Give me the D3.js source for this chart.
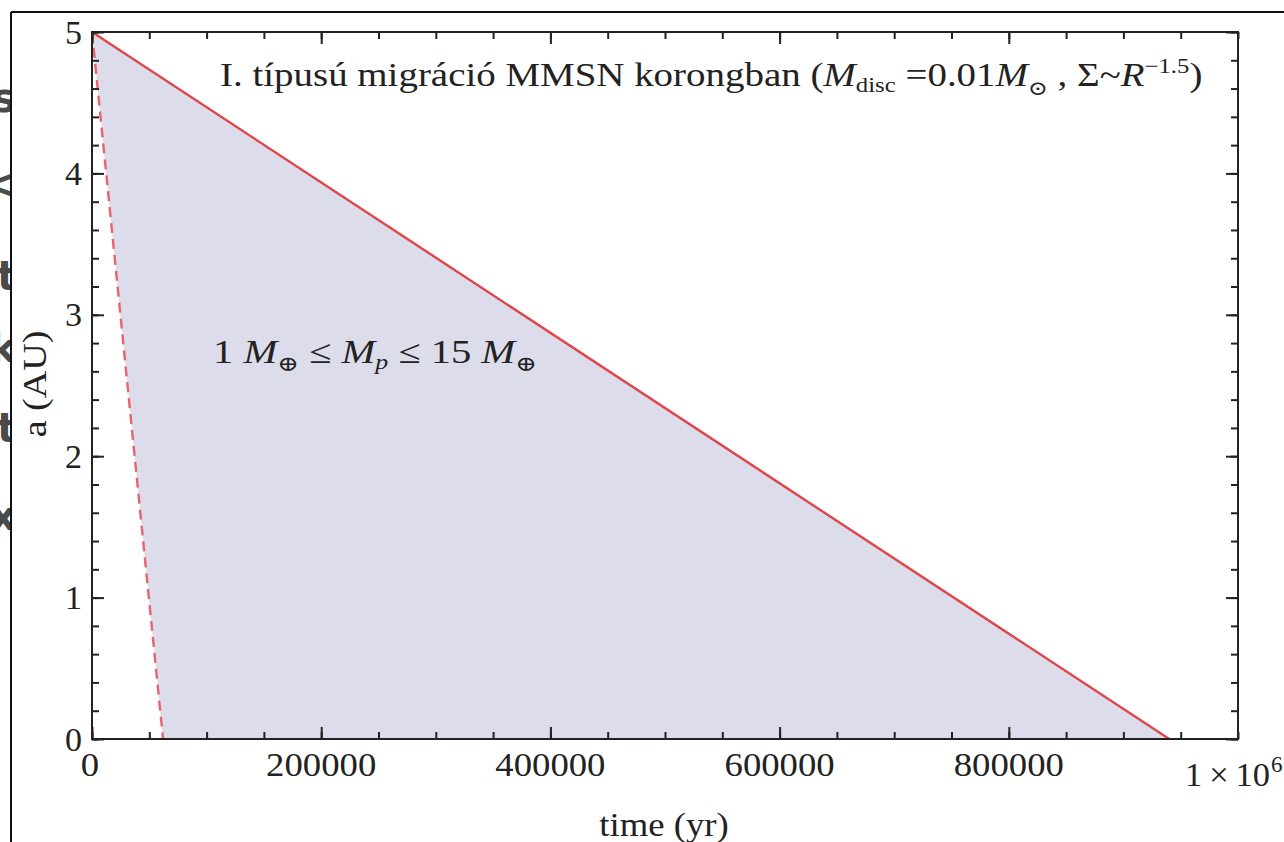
<!DOCTYPE html>
<html>
<head>
<meta charset="utf-8">
<script src="https://cdn.jsdelivr.net/npm/d3@7"></script>
<style>
body { margin: 0; background: #fff; overflow: hidden; }
svg text { font-family: "Liberation Serif", "DejaVu Serif", serif; fill: #222; }
</style>
</head>
<body>
<div id="chart-area"></div>
<script>
// SVG size
let width = 1284,
	height = 842;

// migration tracks: time (yr) vs semi-major axis a (AU)
let slowTime = [0, 940000];   // 1 Earth mass, solid
let slowA = [5, 0];
let fastTime = [0, 62000];    // 15 Earth masses, dashed
let fastA = [5, 0];

// axes
let xMajor = [0, 200000, 400000, 600000, 800000];
let xMajorLabels = ["0", "200000", "400000", "600000", "800000"];
let yMajor = [0, 1, 2, 3, 4, 5];
let yMajorLabels = ["0", "1", "2", "3", "4", "5"];

// bits of another window peeking out on the left edge
let fragChars = ["s", "<", "t", "k", "t", "x"];
let fragY = [112, 198, 290, 362, 442, 530];

drawChart();

// stretch a text horizontally around cx by factor s
function stretch(sel, cx, s) {
	sel.attr("transform", "translate(" + cx + ",0) scale(" + s + ",1) translate(" + (-cx) + ",0)");
}

// stretch a start-anchored text so that it spans x0..x1
function fitWidth(sel, x0, x1) {
	let w = sel.node().getBBox().width;
	stretch(sel, x0, (x1 - x0) / w);
}

function drawChart() {
	let svg = d3.select("#chart-area")
		.append("svg")
		.attr("width", width)
		.attr("height", height);

	let x = d3.scaleLinear().domain([0, 1000000]).range([92, 1238]);
	let y = d3.scaleLinear().domain([0, 5]).range([739, 32]);

	// left-edge fragments behind the window frame
	svg.append("clipPath").attr("id", "leftclip")
		.append("rect").attr("x", 0).attr("y", 0).attr("width", 10).attr("height", height);
	svg.append("g").attr("clip-path", "url(#leftclip)")
		.selectAll("text")
		.data(fragChars)
		.enter()
		.append("text")
		.attr("x", 16)
		.attr("y", (d, i) => fragY[i])
		.attr("text-anchor", "end")
		.style("font-family", "'DejaVu Sans', sans-serif")
		.style("font-weight", "bold")
		.style("font-size", "40px")
		.style("fill", "#4a4a4a")
		.text(d => d);

	// window frame
	svg.append("line").attr("x1", 11).attr("x2", width).attr("y1", 12).attr("y2", 12)
		.attr("stroke", "#111").attr("stroke-width", 2);
	svg.append("line").attr("x1", 11).attr("x2", 11).attr("y1", 12).attr("y2", height)
		.attr("stroke", "#111").attr("stroke-width", 2);

	// shaded band between the two tracks
	let band = slowA.map((a, i) => ({ a: a, t0: fastTime[i], t1: slowTime[i] }));
	svg.append("path")
		.datum(band)
		.attr("fill", "#dcdcea")
		.attr("d", d3.area()
			.y(d => y(d.a))
			.x0(d => x(d.t0))
			.x1(d => x(d.t1)));

	let line = d3.line().x(d => x(d[0])).y(d => y(d[1]));

	svg.append("path")
		.datum(fastTime.map((t, i) => [t, fastA[i]]))
		.attr("fill", "none")
		.attr("stroke", "#e8646c")
		.attr("stroke-width", 2.4)
		.attr("stroke-dasharray", "10,6")
		.attr("d", line);

	svg.append("path")
		.datum(slowTime.map((t, i) => [t, slowA[i]]))
		.attr("fill", "none")
		.attr("stroke", "#e0454b")
		.attr("stroke-width", 2.4)
		.attr("d", line);

	// ticks, all pointing inward
	let axisStyle = g => {
		g.select(".domain").remove();
		g.selectAll(".tick line").attr("stroke", "#222").attr("stroke-width", 2);
		g.selectAll(".tick text").remove();
	};
	let minorX = x.ticks(20), minorY = y.ticks(25);

	svg.append("g").attr("transform", "translate(0,739)")
		.call(d3.axisBottom(x).tickValues(minorX).tickSize(-7)).call(axisStyle);
	svg.append("g").attr("transform", "translate(0,739)")
		.call(d3.axisBottom(x).tickValues(xMajor).tickSize(-12)).call(axisStyle);
	svg.append("g").attr("transform", "translate(0,32)")
		.call(d3.axisTop(x).tickValues(minorX).tickSize(-7)).call(axisStyle);
	svg.append("g").attr("transform", "translate(0,32)")
		.call(d3.axisTop(x).tickValues(xMajor).tickSize(-12)).call(axisStyle);
	svg.append("g").attr("transform", "translate(92,0)")
		.call(d3.axisLeft(y).tickValues(minorY).tickSize(-7)).call(axisStyle);
	svg.append("g").attr("transform", "translate(92,0)")
		.call(d3.axisLeft(y).tickValues(yMajor).tickSize(-12)).call(axisStyle);
	svg.append("g").attr("transform", "translate(1238,0)")
		.call(d3.axisRight(y).tickValues(minorY).tickSize(-7)).call(axisStyle);
	svg.append("g").attr("transform", "translate(1238,0)")
		.call(d3.axisRight(y).tickValues(yMajor).tickSize(-12)).call(axisStyle);

	// plot frame
	svg.append("rect")
		.attr("x", 92).attr("y", 32)
		.attr("width", 1238 - 92).attr("height", 739 - 32)
		.attr("fill", "none")
		.attr("stroke", "#222")
		.attr("stroke-width", 2);

	// tick labels
	svg.selectAll(".xlab")
		.data(xMajor)
		.enter()
		.append("text")
		.attr("class", "xlab")
		.attr("x", (d, i) => x(d) - (i === 0 ? 2 : 0))
		.attr("y", 776)
		.attr("text-anchor", "middle")
		.style("font-size", "34px")
		.text((d, i) => xMajorLabels[i])
		.each(function (d, i) { stretch(d3.select(this), x(d) - (i === 0 ? 2 : 0), 1.08); });

	let big = svg.append("text")
		.attr("x", 1185)
		.attr("y", 786)
		.style("font-size", "34px")
		.text("1\u2009\u00d7\u200910");
	fitWidth(big, 1185, 1270);
	svg.append("text")
		.attr("x", 1271)
		.attr("y", 772)
		.style("font-size", "23px")
		.text("6");

	svg.selectAll(".ylab")
		.data(yMajor)
		.enter()
		.append("text")
		.attr("class", "ylab")
		.attr("x", 82)
		.attr("y", d => y(d))
		.attr("dy", "0.34em")
		.attr("text-anchor", "end")
		.style("font-size", "34px")
		.text((d, i) => yMajorLabels[i]);

	// axis titles
	let xt = svg.append("text")
		.attr("x", 664)
		.attr("y", 836)
		.attr("text-anchor", "middle")
		.style("font-size", "34px")
		.text("time (yr)");
	stretch(xt, 664, 1.08);

	svg.append("text")
		.attr("transform", "translate(46,384) rotate(-90) scale(1.12,1)")
		.attr("text-anchor", "middle")
		.style("font-size", "34px")
		.text("a (AU)");

	// title
	let title = svg.append("text")
		.attr("x", 220)
		.attr("y", 86)
		.style("font-size", "33px");
	title.append("tspan").text("I. típusú migráció MMSN korongban (");
	title.append("tspan").style("font-style", "italic").text("M");
	title.append("tspan").attr("dy", 6).style("font-size", "21px").text("disc");
	title.append("tspan").attr("dy", -6).text(" =0.01");
	title.append("tspan").style("font-style", "italic").text("M");
	title.append("tspan").attr("dy", 9).style("font-size", "20px").text("\u2299");
	title.append("tspan").attr("dy", -9).text(" , \u03a3~");
	title.append("tspan").style("font-style", "italic").text("R");
	title.append("tspan").attr("dy", -13).style("font-size", "21px").text("\u22121.5");
	title.append("tspan").attr("dy", 13).text(")");
	fitWidth(title, 220, 1203);

	// mass range label
	let lab = svg.append("text")
		.attr("x", 213)
		.attr("y", 363)
		.style("font-size", "33px");
	lab.append("tspan").text("1 ");
	lab.append("tspan").style("font-style", "italic").text("M");
	lab.append("tspan").attr("dy", 8).style("font-size", "21px").text("\u2295");
	lab.append("tspan").attr("dy", -8).text(" \u2264 ");
	lab.append("tspan").style("font-style", "italic").text("M");
	lab.append("tspan").attr("dy", 6).style("font-size", "21px").style("font-style", "italic").text("p");
	lab.append("tspan").attr("dy", -6).text(" \u2264 15 ");
	lab.append("tspan").style("font-style", "italic").text("M");
	lab.append("tspan").attr("dy", 8).style("font-size", "21px").text("\u2295");
	fitWidth(lab, 213, 537);
}
</script>
</body>
</html>
